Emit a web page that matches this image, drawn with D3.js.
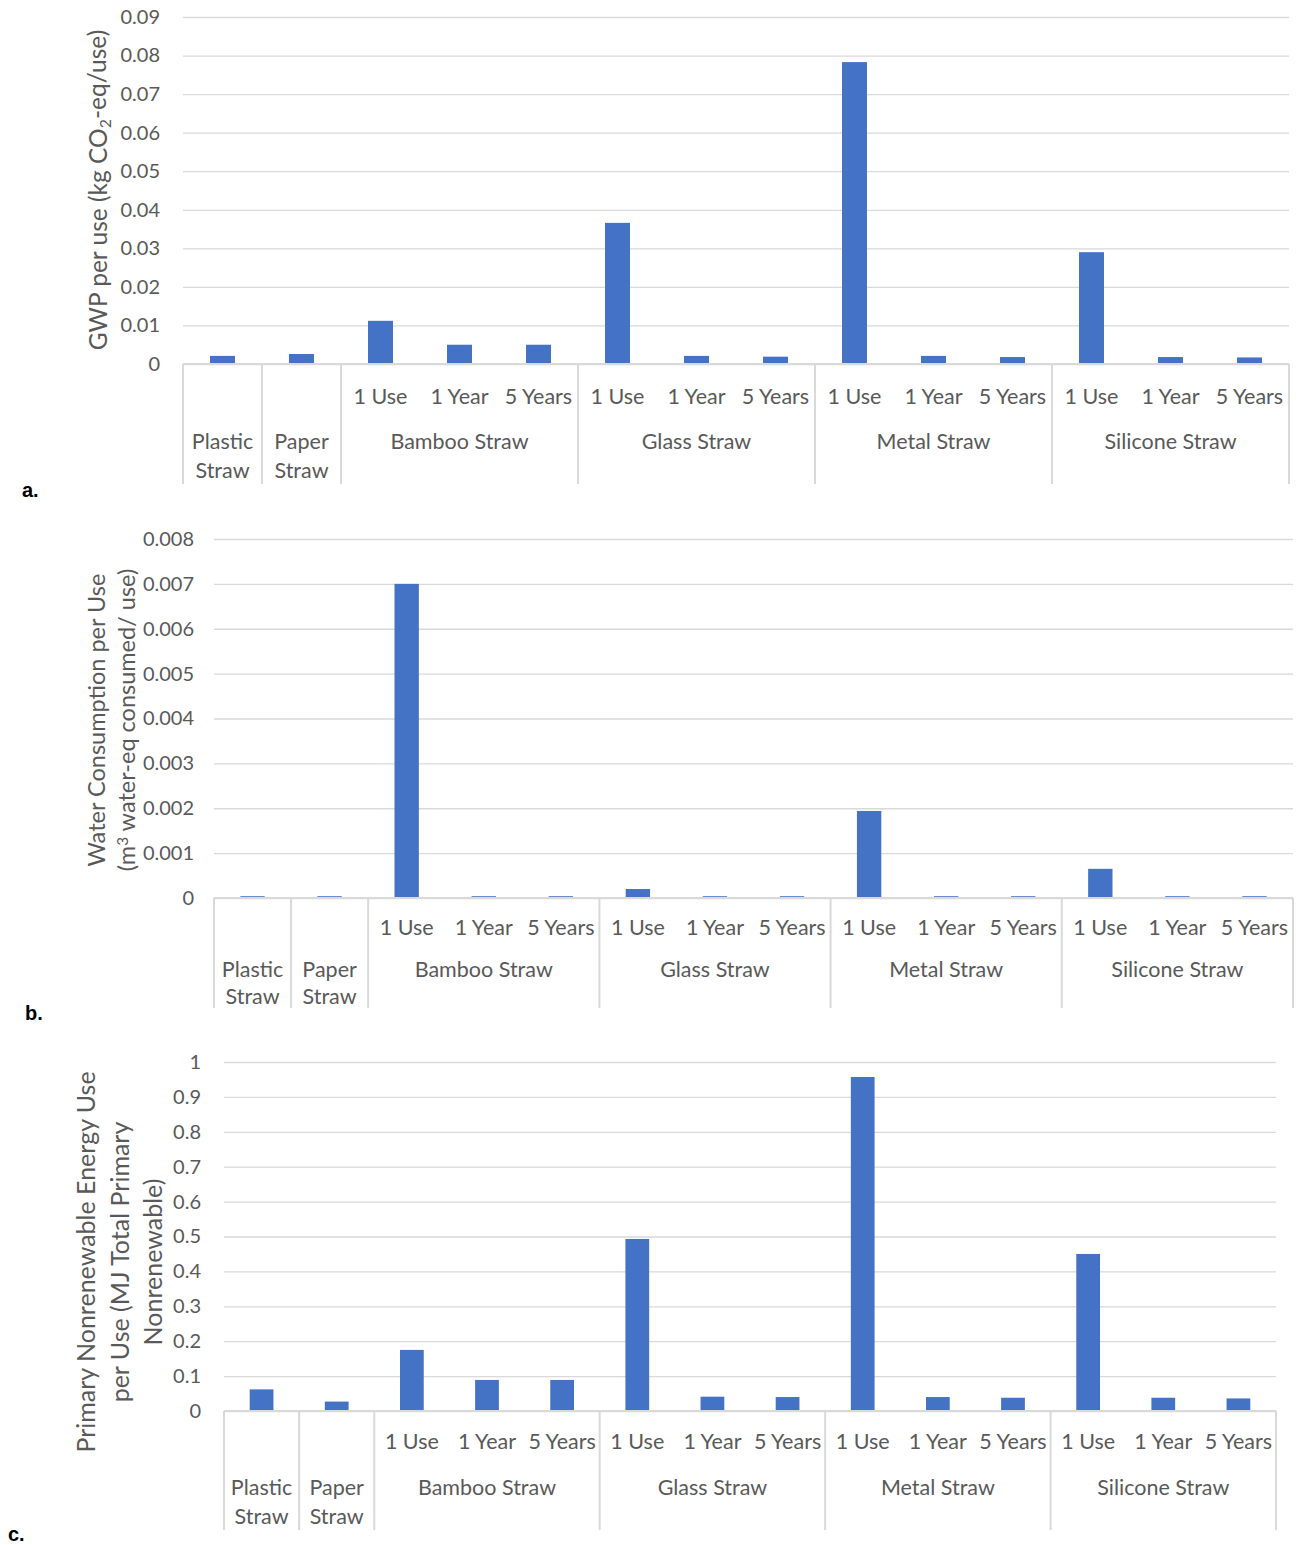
<!DOCTYPE html>
<html>
<head>
<meta charset="utf-8">
<script src="https://cdn.jsdelivr.net/npm/d3@7"></script>
<style>
  html, body { margin: 0; padding: 0; background: #fff; }
  svg { display: block; font-family: Lato, "Open Sans", sans-serif; }
</style>
</head>
<body>
<svg id="chart" width="1298" height="1545"></svg>
<script>
// Straw types (top-level category) and use scenario (second level) for each bar
const categoryGroup = [
  "Plastic Straw", "Paper Straw",
  "Bamboo Straw", "Bamboo Straw", "Bamboo Straw",
  "Glass Straw", "Glass Straw", "Glass Straw",
  "Metal Straw", "Metal Straw", "Metal Straw",
  "Silicone Straw", "Silicone Straw", "Silicone Straw"
];
const categoryScenario = [
  "", "",
  "1 Use", "1 Year", "5 Years",
  "1 Use", "1 Year", "5 Years",
  "1 Use", "1 Year", "5 Years",
  "1 Use", "1 Year", "5 Years"
];

// a. Global warming potential per use (kg CO2-eq/use)
const gwpPerUse = [
  0.0021, 0.0026,
  0.0112, 0.0050, 0.0050,
  0.0366, 0.0021, 0.0019,
  0.0783, 0.0021, 0.0018,
  0.0290, 0.0018, 0.0017
];
// b. Water consumption per use (m3 water-eq consumed/use)
const waterPerUse = [
  0.00004, 0.00004,
  0.00700, 0.00004, 0.00004,
  0.00020, 0.00004, 0.00004,
  0.00194, 0.00004, 0.00004,
  0.00065, 0.00004, 0.00004
];
// c. Primary nonrenewable energy use per use (MJ)
const energyPerUse = [
  0.062, 0.027,
  0.175, 0.089, 0.089,
  0.493, 0.041, 0.040,
  0.957, 0.040, 0.038,
  0.450, 0.038, 0.036
];

// Value-axis tick labels
const gwpTicks = ["0", "0.01", "0.02", "0.03", "0.04", "0.05", "0.06", "0.07", "0.08", "0.09"];
const waterTicks = ["0", "0.001", "0.002", "0.003", "0.004", "0.005", "0.006", "0.007", "0.008"];
const energyTicks = ["0", "0.1", "0.2", "0.3", "0.4", "0.5", "0.6", "0.7", "0.8", "0.9", "1"];

const svg = d3.select("#chart");
const BAR = "#4472c4", TEXT = "#595959", GRID = "#d9d9d9";
const CAT_SIZE = 21.5, TICK_SIZE = 20;

const panels = [
  {
    values: gwpPerUse, ticks: gwpTicks, max: 0.09,
    left: 183, right: 1289, y0: 364, yTop: 17, bottom: 484,
    tickPad: 23, scenY: 396, groupY: 441, groupY2: 470,
    title: [[{t: "GWP per use (kg CO"}, {t: "2", sub: true}, {t: "-eq/use)"}]],
    titleX: [98], titleY: 190, titleSize: 24.5,
    tag: "a.", tagX: 22, tagY: 497
  },
  {
    values: waterPerUse, ticks: waterTicks, max: 0.008,
    left: 214, right: 1293, y0: 898, yTop: 539, bottom: 1008,
    tickPad: 20, scenY: 927, groupY: 969, groupY2: 996,
    title: [[{t: "Water Consumption per Use"}],
            [{t: "(m"}, {t: "3", sup: true}, {t: " water-eq consumed/ use)"}]],
    titleX: [97, 127], titleY: 720, titleSize: 23.5,
    tag: "b.", tagX: 25, tagY: 1020
  },
  {
    values: energyPerUse, ticks: energyTicks, max: 1,
    left: 224, right: 1276, y0: 1411, yTop: 1062, bottom: 1530,
    tickPad: 23, scenY: 1441, groupY: 1487, groupY2: 1516,
    title: [[{t: "Primary Nonrenewable Energy Use"}],
            [{t: "per Use (MJ Total Primary"}],
            [{t: "Nonrenewable)"}]],
    titleX: [86, 120, 153], titleY: 1262, titleSize: 25,
    tag: "c.", tagX: 8, tagY: 1541
  }
];

panels.forEach(p => {
  const g = svg.append("g");
  const idx = d3.range(categoryGroup.length);

  const x = d3.scaleBand().domain(idx).range([p.left, p.right]).paddingInner(0).paddingOuter(0);
  const y = d3.scaleLinear().domain([0, p.max]).range([p.y0, p.yTop]);
  const tickVals = p.ticks.map(Number);

  // value axis with gridlines
  const yAxis = d3.axisLeft(y)
    .tickValues(tickVals)
    .tickFormat((d, i) => p.ticks[i])
    .tickSize(-(p.right - p.left))
    .tickPadding(p.tickPad);
  const ya = g.append("g").attr("transform", `translate(${p.left},0)`).call(yAxis);
  ya.select(".domain").remove();
  ya.selectAll(".tick line").attr("stroke", GRID).attr("stroke-width", 1.3);
  ya.selectAll(".tick text").attr("fill", TEXT).attr("font-size", TICK_SIZE)
    .attr("font-family", "Lato, 'Open Sans', sans-serif");

  // bars
  const bw = x.bandwidth() * 0.316;
  g.selectAll("rect.bar").data(p.values).enter().append("rect")
    .attr("class", "bar")
    .attr("x", (d, i) => x(i) + (x.bandwidth() - bw) / 2)
    .attr("width", bw)
    .attr("y", d => y(d))
    .attr("height", d => p.y0 - y(d))
    .attr("fill", BAR);

  // category axis: baseline and group separators
  g.append("line").attr("x1", p.left).attr("x2", p.right)
    .attr("y1", p.y0).attr("y2", p.y0)
    .attr("stroke", GRID).attr("stroke-width", 2);

  const groups = [];
  categoryGroup.forEach((name, i) => {
    const last = groups[groups.length - 1];
    if (last && last.name === name) last.end = i;
    else groups.push({name, start: i, end: i});
  });
  const bounds = [p.left].concat(groups.map(gr => x(gr.end) + x.bandwidth()));
  g.selectAll("line.sep").data(bounds).enter().append("line")
    .attr("class", "sep")
    .attr("x1", d => d).attr("x2", d => d)
    .attr("y1", p.y0).attr("y2", p.bottom)
    .attr("stroke", GRID).attr("stroke-width", 2);

  // scenario labels
  g.selectAll("text.scen").data(idx.filter(i => categoryScenario[i])).enter().append("text")
    .attr("class", "scen")
    .attr("x", i => x(i) + x.bandwidth() / 2)
    .attr("y", p.scenY)
    .attr("dy", "0.35em")
    .attr("text-anchor", "middle")
    .attr("fill", TEXT).attr("font-size", CAT_SIZE)
    .text(i => categoryScenario[i]);

  // straw type labels (single-bar groups wrap onto two lines)
  groups.forEach(gr => {
    const cx = (x(gr.start) + x(gr.end) + x.bandwidth()) / 2;
    const lines = gr.start === gr.end ? gr.name.split(" ") : [gr.name];
    lines.forEach((ln, k) => {
      g.append("text")
        .attr("x", cx)
        .attr("y", k === 0 ? p.groupY : p.groupY2)
        .attr("dy", "0.35em")
        .attr("text-anchor", "middle")
        .attr("fill", TEXT).attr("font-size", CAT_SIZE)
        .text(ln);
    });
  });

  // value-axis title
  p.title.forEach((parts, k) => {
    const t = g.append("text")
      .attr("transform", `translate(${p.titleX[k]},${p.titleY}) rotate(-90)`)
      .attr("text-anchor", "middle")
      .attr("dy", "0.35em")
      .attr("fill", TEXT).attr("font-size", p.titleSize);
    parts.forEach((part, j) => {
      const s = t.append("tspan").text(part.t);
      if (part.sub) s.attr("font-size", p.titleSize * 0.65).attr("dy", "0.3em");
      if (part.sup) s.attr("font-size", p.titleSize * 0.65).attr("dy", "-0.5em");
      const prev = parts[j - 1];
      if (prev && prev.sub) s.attr("dy", "-0.2em");
      if (prev && prev.sup) s.attr("dy", "0.33em");
    });
  });

  // panel tag
  g.append("text").attr("x", p.tagX).attr("y", p.tagY)
    .attr("font-size", 20).attr("font-weight", "bold").attr("fill", "#000")
    .attr("font-family", "'Liberation Sans', Arial, sans-serif")
    .text(p.tag);
});
</script>
</body>
</html>
